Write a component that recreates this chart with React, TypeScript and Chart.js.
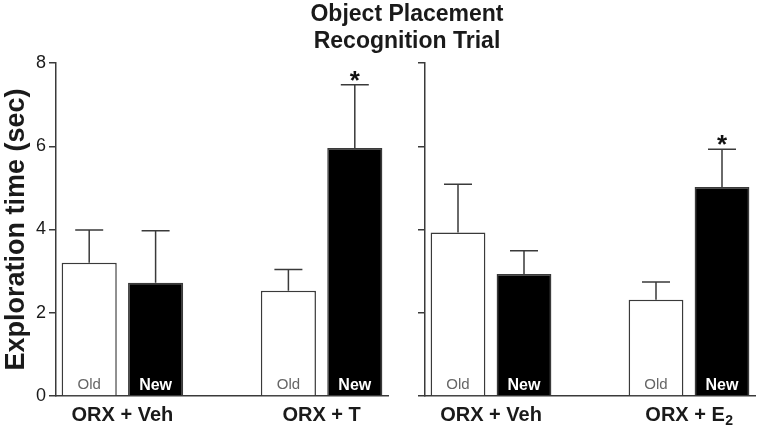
import React, { useEffect, useRef } from "react";
import { Chart, registerables } from "chart.js";
Chart.register(...registerables);

const categories = ["Old", "New", "", "Old", "New"];
const leftGroups = ["ORX + Veh", "ORX + T"];
const rightGroups = ["ORX + Veh", "ORX + E₂"];
const leftMeans = [3.2, 2.72, null, 2.53, 5.96];
const leftErrors = [0.79, 1.25, null, 0.51, 1.52];
const leftMarks = ["", "", "", "", "*"];
const rightMeans = [3.93, 2.93, null, 2.31, 5.02];
const rightErrors = [1.16, 0.56, null, 0.43, 0.91];
const rightMarks = ["", "", "", "", "*"];
const yTickValues = [0, 2, 4, 6, 8];
const yTitle = "Exploration time (sec)";
const titleLines = ["Object Placement", "Recognition Trial"];

const FONT = "'Liberation Sans', Arial, sans-serif";
const INK = "#1a1a1a";
const LINE = "#3a3a3a";

function makeAnnot(errors: (number | null)[], marks: string[], groups: string[]) {
  return {
    id: "annot",
    afterDatasetsDraw(chart: any) {
      const ctx = chart.ctx;
      const meta = chart.getDatasetMeta(0);
      const ys = chart.scales.y;
      const data = chart.data.datasets[0].data;
      ctx.save();
      meta.data.forEach((bar: any, i: number) => {
        const v = data[i];
        if (v == null) return;
        const e = errors[i] || 0;
        const top = ys.getPixelForValue(v + e);
        const bTop = ys.getPixelForValue(v);
        ctx.strokeStyle = LINE;
        ctx.lineWidth = 1.5;
        ctx.beginPath();
        ctx.moveTo(bar.x, bTop);
        ctx.lineTo(bar.x, top);
        ctx.moveTo(bar.x - 14, top);
        ctx.lineTo(bar.x + 14, top);
        ctx.stroke();
        if (marks[i]) {
          ctx.fillStyle = "#111";
          ctx.font = `bold 26px ${FONT}`;
          ctx.textAlign = "center";
          ctx.textBaseline = "alphabetic";
          ctx.fillText(marks[i], bar.x, top + 4);
        }
        const cat = categories[i];
        ctx.textAlign = "center";
        ctx.textBaseline = "middle";
        if (cat === "New") {
          ctx.fillStyle = "#fff";
          ctx.font = `bold 16px ${FONT}`;
        } else {
          ctx.fillStyle = "#666";
          ctx.font = `15px ${FONT}`;
        }
        ctx.fillText(cat, bar.x, bar.base - 10);
      });
      const pairs = [
        [0, 1],
        [3, 4],
      ];
      pairs.forEach((p, gi) => {
        const cx = (meta.data[p[0]].x + meta.data[p[1]].x) / 2;
        const cy = chart.chartArea.bottom + 19;
        const label = groups[gi];
        ctx.fillStyle = INK;
        ctx.textBaseline = "middle";
        if (label.includes("₂")) {
          const main = label.replace("₂", "");
          ctx.font = `bold 20px ${FONT}`;
          const w1 = ctx.measureText(main).width;
          ctx.font = `bold 14px ${FONT}`;
          const w2 = ctx.measureText("2").width;
          const x0 = cx - (w1 + w2) / 2;
          ctx.textAlign = "left";
          ctx.font = `bold 20px ${FONT}`;
          ctx.fillText(main, x0, cy);
          ctx.font = `bold 14px ${FONT}`;
          ctx.fillText("2", x0 + w1 + 0.5, cy + 6);
        } else {
          ctx.textAlign = "center";
          ctx.font = `bold 20px ${FONT}`;
          ctx.fillText(label, cx, cy);
        }
      });
      ctx.restore();
    },
  };
}

type PanelProps = {
  means: (number | null)[];
  errors: (number | null)[];
  marks: string[];
  groups: string[];
  showLabels: boolean;
  left: number;
  width: number;
  axisWidth: number;
  padRight: number;
};

function Panel(props: PanelProps) {
  const ref = useRef<HTMLCanvasElement>(null);
  useEffect(() => {
    if (!ref.current) return;
    const chart = new Chart(ref.current, {
      type: "bar",
      data: {
        labels: categories,
        datasets: [
          {
            data: props.means as any,
            backgroundColor: categories.map((c) => (c === "New" ? "#000" : "#fff")),
            borderColor: LINE,
            borderWidth: 1.5,
            barPercentage: 0.83,
            categoryPercentage: 1,
          },
        ],
      },
      plugins: [makeAnnot(props.errors, props.marks, props.groups)],
      options: {
        animation: false,
        responsive: false,
        devicePixelRatio: 1,
        layout: { padding: { top: 63, right: props.padRight, bottom: 0, left: 0 } },
        plugins: { legend: { display: false }, tooltip: { enabled: false }, title: { display: false } },
        scales: {
          x: {
            type: "category",
            offset: true,
            grid: { display: false },
            border: { display: true, color: LINE, width: 1.5 },
            ticks: { display: false },
            afterFit: (s: any) => {
              s.height = 34;
            },
          },
          y: {
            min: 0,
            max: 8,
            afterBuildTicks: (s: any) => {
              s.ticks = yTickValues.map((v) => ({ value: v }));
            },
            grid: { drawOnChartArea: false, drawTicks: true, tickLength: 7, color: LINE, lineWidth: 1.5 },
            border: { display: true, color: LINE, width: 1.5 },
            ticks: {
              padding: 3,
              color: INK,
              font: { size: 18, family: FONT },
              callback: (v: any) => (props.showLabels ? String(v) : ""),
            },
            title: {
              display: props.showLabels,
              text: yTitle,
              color: INK,
              font: { size: 27, weight: "bold", family: FONT },
              padding: { top: 0, bottom: 0 },
            },
            afterFit: (s: any) => {
              s.width = props.axisWidth;
            },
          },
        },
      } as any,
    });
    return () => chart.destroy();
  }, []);
  return (
    <canvas
      ref={ref}
      width={props.width}
      height={430}
      style={{ position: "absolute", left: props.left, top: 0, width: props.width, height: 430, display: "block" }}
    />
  );
}

export default function App() {
  return (
    <div style={{ position: "absolute", left: 0, top: 0, width: 762, height: 430, background: "#fff", overflow: "hidden" }}>
      <Panel
        means={leftMeans}
        errors={leftErrors}
        marks={leftMarks}
        groups={leftGroups}
        showLabels={true}
        left={0}
        width={400}
        axisWidth={56}
        padRight={12}
      />
      <Panel
        means={rightMeans}
        errors={rightErrors}
        marks={rightMarks}
        groups={rightGroups}
        showLabels={false}
        left={410}
        width={352}
        axisWidth={15}
        padRight={7}
      />
      <div
        style={{
          position: "absolute",
          left: 0,
          top: 0,
          width: 814,
          textAlign: "center",
          fontFamily: FONT,
          fontWeight: "bold",
          fontSize: 23,
          lineHeight: "27px",
          color: INK,
        }}
      >
        {titleLines.map((t, i) => (
          <div key={i}>{t}</div>
        ))}
      </div>
    </div>
  );
}
